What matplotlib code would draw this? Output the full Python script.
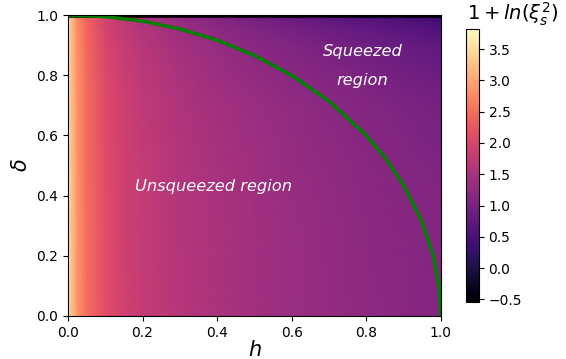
import numpy as np
import matplotlib
matplotlib.use("Agg")
import matplotlib.pyplot as plt

# grid: columns are h, rows are delta
h_vals = [0.0, 0.008, 0.025, 0.05, 0.1, 0.15, 0.2, 0.3, 0.4, 0.5, 0.6, 0.8, 1.0]
delta_vals = [0.0, 0.3, 0.5, 0.7, 0.8, 0.9, 0.95, 0.98, 0.99, 0.994, 1.0]

z_vals = [
    [3.82, 3.30, 2.85, 2.50, 2.12, 1.92, 1.80, 1.63, 1.52, 1.43, 1.35, 1.23, 1.12],
    [3.82, 3.30, 2.85, 2.50, 2.12, 1.91, 1.79, 1.62, 1.51, 1.42, 1.34, 1.21, 1.10],
    [3.82, 3.30, 2.84, 2.49, 2.11, 1.90, 1.78, 1.60, 1.49, 1.39, 1.31, 1.18, 1.06],
    [3.82, 3.29, 2.84, 2.48, 2.08, 1.88, 1.75, 1.56, 1.44, 1.34, 1.25, 1.10, 0.97],
    [3.82, 3.29, 2.83, 2.46, 2.06, 1.85, 1.71, 1.52, 1.38, 1.28, 1.18, 1.02, 0.87],
    [3.82, 3.28, 2.81, 2.44, 2.02, 1.80, 1.66, 1.45, 1.30, 1.18, 1.07, 0.89, 0.72],
    [3.82, 3.27, 2.80, 2.42, 1.98, 1.76, 1.61, 1.38, 1.22, 1.09, 0.97, 0.76, 0.57],
    [3.82, 3.27, 2.78, 2.40, 1.95, 1.71, 1.56, 1.32, 1.14, 1.00, 0.86, 0.64, 0.42],
    [3.82, 3.26, 2.77, 2.39, 1.93, 1.69, 1.53, 1.29, 1.11, 0.97, 0.82, 0.60, 0.37],
    [-0.54, -0.54, -0.54, -0.54, -0.54, -0.54, -0.54, -0.54, -0.54, -0.54, -0.54, -0.54, -0.54],
    [-0.54, -0.54, -0.54, -0.54, -0.54, -0.54, -0.54, -0.54, -0.54, -0.54, -0.54, -0.54, -0.54],
]

# boundary between the two regions (green line)
h_border = [0.0, 0.1, 0.2, 0.3, 0.4, 0.5, 0.6, 0.7, 0.8, 0.85, 0.9, 0.95, 0.98, 0.995, 1.0]
delta_border = [1.0, 0.995, 0.98, 0.954, 0.917, 0.866, 0.8, 0.714, 0.6, 0.527, 0.436, 0.312, 0.199, 0.1, 0.0]

cbar_ticks = [-0.5, 0.0, 0.5, 1.0, 1.5, 2.0, 2.5, 3.0, 3.5]

fig = plt.figure(figsize=(5.66, 3.59), dpi=100)
ax = fig.add_axes([0.120, 0.120, 0.659, 0.838])
cax = fig.add_axes([0.823, 0.159, 0.023, 0.760])

mesh = ax.pcolormesh(h_vals, delta_vals, np.array(z_vals), shading="gouraud",
                     cmap="magma", vmin=-0.54, vmax=3.82)
ax.plot(h_border, delta_border, color="green", lw=2.5)

ax.set_xlim(0, 1)
ax.set_ylim(0, 1)
ax.set_xlabel("$h$", fontsize=15, labelpad=0)
ax.set_ylabel(r"$\delta$", fontsize=15)

ax.text(0.79, 0.83, "Squeezed\nregion", color="white", style="italic",
        fontsize=11.7, ha="center", va="center", linespacing=2.2)
ax.text(0.39, 0.43, "Unsqueezed region", color="white", style="italic",
        fontsize=11.7, ha="center", va="center")

cb = fig.colorbar(mesh, cax=cax, ticks=cbar_ticks)
cb.outline.set_linewidth(0.8)
fig.text(0.905, 0.961, r"$1+ln(\xi_s^2)$", fontsize=14, ha="center", va="center")

fig.savefig("out.png", dpi=100)
